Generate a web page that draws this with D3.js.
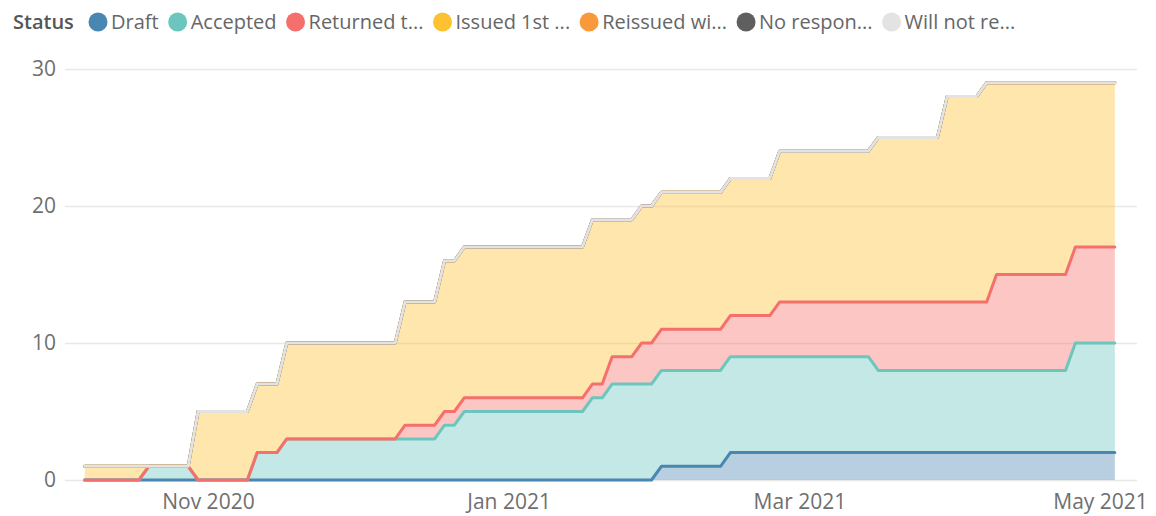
<!DOCTYPE html>
<html>
<head>
<meta charset="utf-8">
<script src="https://cdn.jsdelivr.net/npm/d3@7"></script>
<style>
  body { margin: 0; background: #fff; }
  text { font-family: "Open Sans", "Noto Sans", sans-serif; }
</style>
</head>
<body>
<svg id="chart"></svg>
<script>
// status names as shown (truncated) in the legend
let statuses = ["Draft", "Accepted", "Returned t...", "Issued 1st ...", "Reissued wi...", "No respon...", "Will not re..."];
let colors = ["#4a86b2", "#6cc6be", "#f5706c", "#fdc131", "#f89a3c", "#5f5f5f", "#e3e3e3"];

let dates = ["2020-10-07","2020-10-18","2020-10-20","2020-10-28","2020-10-30",
             "2020-11-09","2020-11-11","2020-11-15","2020-11-17","2020-12-09",
             "2020-12-11","2020-12-17","2020-12-19","2020-12-21","2020-12-23",
             "2021-01-16","2021-01-18","2021-01-20","2021-01-22","2021-01-26",
             "2021-01-28","2021-01-30","2021-02-01","2021-02-13","2021-02-15",
             "2021-02-23","2021-02-25","2021-03-15","2021-03-17","2021-03-29",
             "2021-03-31","2021-04-06","2021-04-08","2021-04-10","2021-04-24",
             "2021-04-26","2021-05-04"];

let draft      = [0,0,0,0,0, 0,0,0,0,0, 0,0,0,0,0, 0,0,0,0,0, 0,0,1,1,2, 2,2,2,2,2, 2,2,2,2,2, 2,2];
let accepted   = [0,0,1,1,0, 0,2,2,3,3, 3,3,4,4,5, 5,6,6,7,7, 7,7,7,7,7, 7,7,7,6,6, 6,6,6,6,6, 8,8];
let returned   = [0,0,0,0,0, 0,0,0,0,0, 1,1,1,1,1, 1,1,1,2,2, 3,3,3,3,3, 3,4,4,5,5, 5,5,5,7,7, 7,7];
let issued     = [1,1,0,0,5, 5,5,5,7,7, 9,9,11,11,11, 11,12,12,10,10, 10,10,10,10,10, 10,11,11,12,12, 15,15,16,14,14, 12,12];
let reissued   = [0,0,0,0,0, 0,0,0,0,0, 0,0,0,0,0, 0,0,0,0,0, 0,0,0,0,0, 0,0,0,0,0, 0,0,0,0,0, 0,0];
let noResponse = [0,0,0,0,0, 0,0,0,0,0, 0,0,0,0,0, 0,0,0,0,0, 0,0,0,0,0, 0,0,0,0,0, 0,0,0,0,0, 0,0];
let willNot    = [0,0,0,0,0, 0,0,0,0,0, 0,0,0,0,0, 0,0,0,0,0, 0,0,0,0,0, 0,0,0,0,0, 0,0,0,0,0, 0,0];

let yTicks = [0, 10, 20, 30];
let xTicks = ["2020-11-01", "2021-01-01", "2021-03-01", "2021-05-01"];

var svgWidth = 1156, svgHeight = 516;
var plotLeft = 65, plotRight = 1137, plotTop = 69, plotBottom = 480;

var parse = d3.timeParse("%Y-%m-%d");
var seriesValues = [draft, accepted, returned, issued, reissued, noResponse, willNot];

// one row per date for d3.stack
var rows = dates.map((d, i) => {
  let row = { date: parse(d) };
  statuses.forEach((s, k) => row[s] = seriesValues[k][i]);
  return row;
});
var stacked = d3.stack().keys(statuses)(rows);

var svg = d3.select("#chart")
            .attr("width", svgWidth)
            .attr("height", svgHeight);

var x = d3.scaleTime()
          .domain([new Date(2020, 9, 3), new Date(2021, 4, 8, 12)])
          .range([plotLeft, plotRight]);
var y = d3.scaleLinear()
          .domain([0, 30])
          .range([plotBottom, plotTop]);

// y gridlines + labels
var yAxis = svg.append("g")
   .attr("transform", `translate(${plotLeft},0)`)
   .call(d3.axisLeft(y).tickValues(yTicks).tickSize(-(plotRight - plotLeft)).tickPadding(9));
yAxis.select(".domain").remove();
yAxis.selectAll("line").attr("stroke", "#e8e8e8").attr("stroke-width", 1.5);
yAxis.selectAll("text").attr("fill", "#6f6f6f").style("font-size", "21px");

// x labels
var xAxis = svg.append("g")
   .attr("transform", `translate(0,${plotBottom})`)
   .call(d3.axisBottom(x).tickValues(xTicks.map(parse)).tickFormat(d3.timeFormat("%b %Y")).tickSize(0).tickPadding(14));
xAxis.select(".domain").remove();
xAxis.selectAll("text").attr("fill", "#6f6f6f").style("font-size", "21px");

var area = d3.area()
             .x(d => x(d.data.date))
             .y0(d => y(d[0]))
             .y1(d => y(d[1]));
var line = d3.line()
             .x(d => x(d.data.date))
             .y(d => y(d[1]));

svg.append("g").selectAll("path")
   .data(stacked)
   .enter()
   .append("path")
   .attr("d", area)
   .attr("fill", (d, i) => colors[i])
   .attr("fill-opacity", 0.4);

svg.append("g").selectAll("path")
   .data(stacked)
   .enter()
   .append("path")
   .attr("d", line)
   .attr("fill", "none")
   .attr("stroke", (d, i) => colors[i])
   .attr("stroke-width", 3)
   .attr("stroke-linejoin", "round")
   .attr("stroke-linecap", "round");

// legend
var legend = svg.append("g");
legend.append("text")
      .attr("x", 13).attr("y", 29)
      .attr("fill", "#555")
      .style("font-size", "20px")
      .style("font-weight", 600)
      .text("Status");

var cur = 88;
statuses.forEach((s, i) => {
  legend.append("circle")
        .attr("cx", cur + 10).attr("cy", 22).attr("r", 9.5)
        .attr("fill", colors[i]);
  let t = legend.append("text")
        .attr("x", cur + 23).attr("y", 29)
        .attr("fill", "#666")
        .style("font-size", "20px")
        .text(s);
  cur = cur + 23 + t.node().getComputedTextLength() + 9;
});
</script>
</body>
</html>
